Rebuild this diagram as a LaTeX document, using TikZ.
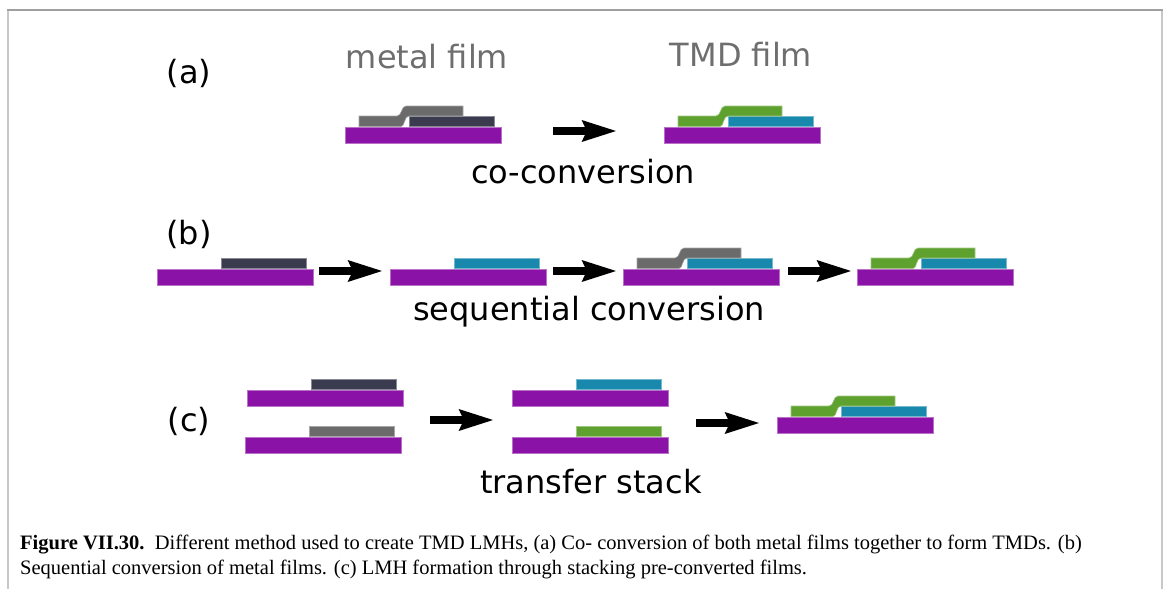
\documentclass[tikz,border=0pt]{standalone}
\usepackage{fontspec}
\setmainfont{Liberation Serif}
\newfontfamily\labfont{DejaVu Sans}
\newfontfamily\capfont{Liberation Serif}
\usetikzlibrary{arrows.meta}
\definecolor{cpurple}{HTML}{8A12A6}
\definecolor{cdark}{HTML}{3B3B4F}
\definecolor{cgray}{HTML}{6B6B6B}
\definecolor{cgreen}{HTML}{5FA12F}
\definecolor{cblue}{HTML}{1888AC}
\definecolor{ctext}{HTML}{6E6E6E}
\definecolor{cframe}{HTML}{A0A0A0}
\definecolor{cframeside}{HTML}{C8C8C8}
\tikzset{
  sub/.style={fill=cpurple, draw=cpurple!60!white, line width=0.6pt},
  film/.style={fill=#1, draw=#1!60!white, line width=0.6pt},
  bigarrow/.style={line width=8pt, -{Stealth[length=34pt,width=20pt,inset=4pt]}},
  lab/.style={font=\labfont\fontsize{32}{36}\selectfont, anchor=base, inner sep=0pt},
  capt/.style={anchor=base west, inner sep=0pt, font=\capfont\fontsize{20.5}{25}\selectfont},
}
\newcommand\mysubst{\path[sub] (0,0) rectangle (156,16);}
\newcommand\myflat[1]{\path[film=#1] (64,-11) rectangle (149,-0.5);}
\newcommand\mystep[1]{\path[film=#1] (14,-0.5) -- (14,-11) -- (52,-11) .. controls (57,-11) and (56,-21) .. (61,-21) -- (118,-21) -- (118,-11) -- (64,-11) .. controls (59,-11) and (60,-0.5) .. (56,-0.5) -- cycle;}
\begin{document}
\begin{tikzpicture}[x=1pt,y=-1pt]
\useasboundingbox (0,0) rectangle (1167,589);
% frame
\draw[cframeside, line width=2pt] (8,589) -- (8,10);
\draw[cframeside, line width=2pt] (1162,589) -- (1162,10);
\draw[cframe, line width=2pt] (7,10) -- (1163,10);
% labels
\node[lab] (la) at (189,83) {(a)};
\node[lab] (lb) at (189,244) {(b)};
\node[lab] (lc) at (189,431) {(c)};
\node[lab, text=ctext] (metal) at (427,68) {metal film};
\node[lab, text=ctext] (tmd) at (741,66) {TMD film};
\node[lab] (coc) at (583,183) {co-conversion};
\node[lab] (seq) at (589,320) {sequential conversion};
\node[lab] (trs) at (591,493) {transfer stack};
% (a)
\begin{scope}[shift={(345,127)}] \mysubst \myflat{cdark} \mystep{cgray} \end{scope}
\begin{scope}[shift={(664,127)}] \mysubst \myflat{cblue} \mystep{cgreen} \end{scope}
% (b)
\begin{scope}[shift={(157,269)}] \mysubst \myflat{cdark} \end{scope}
\begin{scope}[shift={(390,269)}] \mysubst \myflat{cblue} \end{scope}
\begin{scope}[shift={(623,269)}] \mysubst \myflat{cblue} \mystep{cgray} \end{scope}
\begin{scope}[shift={(857,269)}] \mysubst \myflat{cblue} \mystep{cgreen} \end{scope}
% (c)
\begin{scope}[shift={(247,390)}] \mysubst \myflat{cdark} \end{scope}
\begin{scope}[shift={(245,437)}] \mysubst \myflat{cgray} \end{scope}
\begin{scope}[shift={(512,390)}] \mysubst \myflat{cblue} \end{scope}
\begin{scope}[shift={(512,437)}] \mysubst \myflat{cgreen} \end{scope}
\begin{scope}[shift={(777,417)}] \mysubst \myflat{cblue} \mystep{cgreen} \end{scope}
% arrows
\coordinate (a1s) at (553,131); \coordinate (a1e) at (617,131);
\coordinate (b1s) at (319,271); \coordinate (b1e) at (383,271);
\coordinate (b2s) at (553,271); \coordinate (b2e) at (617,271);
\coordinate (b3s) at (788,271); \coordinate (b3e) at (852,271);
\coordinate (c1s) at (430,420); \coordinate (c1e) at (494,420);
\coordinate (c2s) at (696,423); \coordinate (c2e) at (760,423);
\draw[bigarrow] (a1s) -- (a1e);
\draw[bigarrow] (b1s) -- (b1e);
\draw[bigarrow] (b2s) -- (b2e);
\draw[bigarrow] (b3s) -- (b3e);
\draw[bigarrow] (c1s) -- (c1e);
\draw[bigarrow] (c2s) -- (c2e);
% caption
\node[capt] (cap1) at (20,549) {\textbf{Figure VII.30.}\ \ Different method used to create TMD LMHs, (a) Co- conversion of both metal films together to form TMDs. (b)};
\node[capt] (cap2) at (20,574) {Sequential conversion of metal films. (c) LMH formation through stacking pre-converted films.};
\end{tikzpicture}
\end{document}
